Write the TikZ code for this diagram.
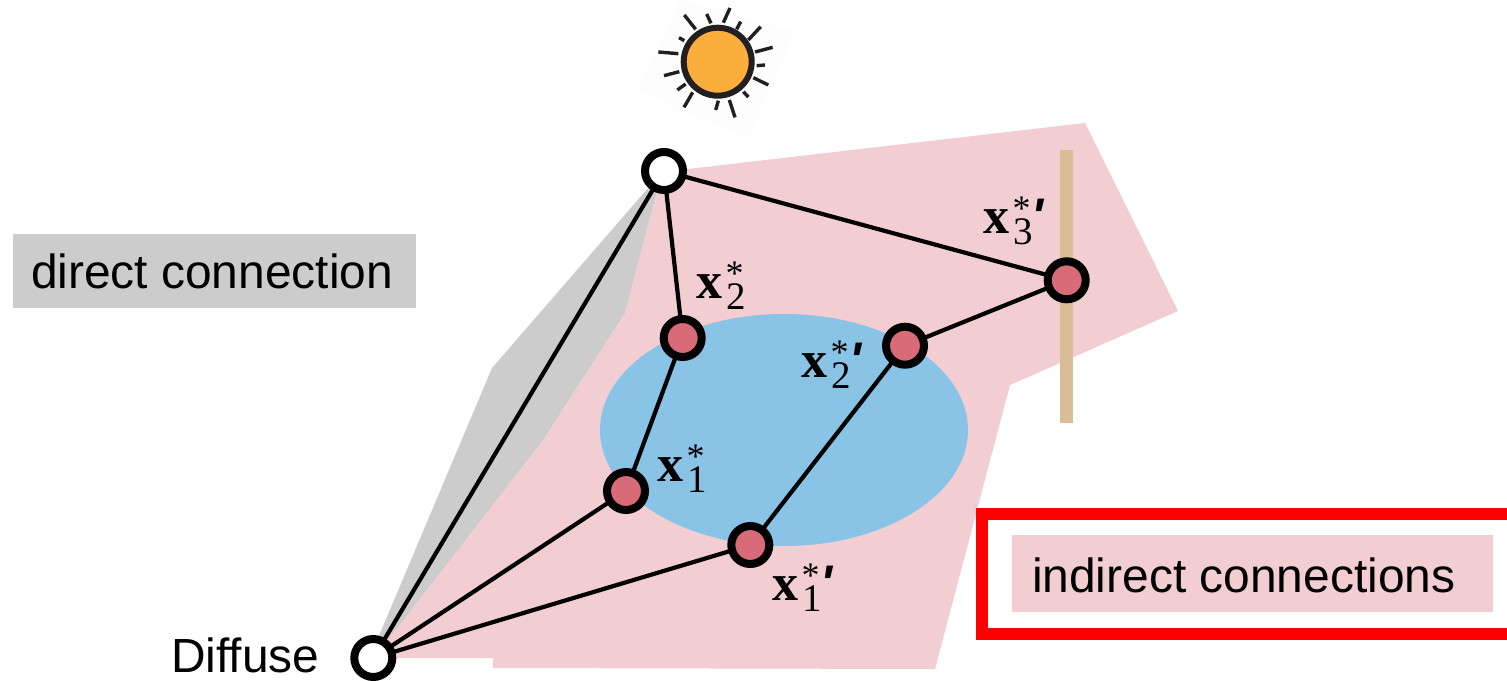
\documentclass[tikz,border=0pt]{standalone}
\usepackage{amsmath}
\usepackage[no-math]{fontspec}
\setmainfont{Liberation Sans}
\newfontfamily\labserif{Liberation Serif}
\definecolor{pinkbg}{HTML}{F2CED3}
\definecolor{bluebg}{HTML}{89C3E6}
\definecolor{graybg}{HTML}{CCCCCC}
\definecolor{tanbar}{HTML}{D9BD97}
\definecolor{vert}{HTML}{D96B78}
\definecolor{sunfill}{HTML}{FBAE3C}
\definecolor{sunline}{HTML}{231F20}
\definecolor{boxred}{HTML}{FF0000}
\newcommand\primemk{\rlap{\hspace{48pt}{\rmfamily\fontsize{50}{50}\selectfont\bfseries\itshape\textquotesingle}}}
\newcommand\xlab[2]{\makebox[62pt][l]{\labserif
  \rlap{\fontsize{52}{52}\selectfont\bfseries x}%
  \rlap{\hspace{30pt}\raisebox{-11pt}{\fontsize{39}{39}\selectfont #1}}%
  \rlap{\hspace{29.5pt}\raisebox{13pt}{\fontsize{36}{36}\selectfont *}}#2}}
\tikzset{
  vertex/.style={circle,draw=black,line width=8pt,minimum size=38pt,inner sep=0pt,outer sep=3pt},
  redv/.style={vertex,fill=vert},
  whitev/.style={vertex,fill=white},
  conn/.style={line width=4.2pt,black},
  ray/.style={line width=3.4pt,sunline},
  lab/.style={inner sep=0pt,outer sep=0pt,font=\fontsize{47.9}{50}\selectfont},
  mlab/.style={inner sep=0pt,outer sep=0pt,anchor=base west}
}
\begin{document}
\begin{tikzpicture}[x=1pt,y=-1pt]
\useasboundingbox (0,0) rectangle (1507,680);
\fill[white] (0,0) rectangle (1507,680);
% faint backing of the sun picture
\fill[black!0.6] (680,0) -- (795,32) -- (748,139) -- (637,90) -- cycle;
% sun
\node[circle,draw=sunline,fill=sunfill,line width=6pt,minimum size=68pt,inner sep=0pt] (sun) at (717.7,61.7) {};
\foreach \a/\b/\c/\d in {163/45/197/88,230/42/243/70,300/24/280/68,332/65/320/88,392/80/355/120,428/142/375/156,405/195/380/197,415/255/370/233,355/291/340/275,315/352/298/300,265/302/257/330,188/277/162/322,167/252/142/270,148/215/102/227,145/161/85/156,163/122/147/113}
  \draw[ray] ({630+\a/3},{\b/3}) -- ({630+\c/3},{\d/3});
% regions
\fill[pinkbg] (373,658) -- (543,440) -- (625,313) -- (662,172) -- (1085,123) -- (1178,311) -- (1010,385) -- (935,669) -- (493,668) -- (493,658) -- cycle;
\fill[graybg] (373,650) -- (492,368) -- (662,172) -- (625,313) -- (543,440) -- (380,650) -- cycle;
\fill[bluebg] (784,430) ellipse [x radius=184, y radius=116];
\fill[tanbar] (1060,150) rectangle (1073,423);
% legend
\fill[graybg] (13,234) rectangle (416,308);
\node[lab,anchor=base west] (direct) at (31,288.5) {direct connection};
\draw[boxred,line width=12pt] (1520,514) -- (982,514) -- (982,634) -- (1520,634);
\fill[pinkbg] (1012,535) rectangle (1493,612);
\node[lab,anchor=base west] (indirect) at (1032,592) {indirect connections};
\node[lab,anchor=base east] (difflab) at (319.5,672) {Diffuse};
% vertices
\node[whitev] (light) at (664,171) {};
\node[redv] (x2) at (682.7,338) {};
\node[redv] (x1) at (626,491) {};
\node[redv] (x1p) at (750.3,545) {};
\node[redv] (x2p) at (905,345.7) {};
\node[redv] (x3p) at (1066.7,280.3) {};
\node[whitev] (diffuse) at (373.3,658) {};
% connectors
\draw[conn] (diffuse) -- (light);
\draw[conn] (light) -- (x2);
\draw[conn] (light) -- (x3p);
\draw[conn] (x2) -- (x1);
\draw[conn] (x1) -- (diffuse);
\draw[conn] (x1p) -- (diffuse);
\draw[conn] (x1p) -- (x2p);
\draw[conn] (x2p) -- (x3p);
% labels
\node[mlab] (lx2) at (696,298) {\xlab{2}{}};
\node[mlab] (lx1) at (657,481) {\xlab{1}{}};
\node[mlab] (lx2p) at (801,377) {\xlab{2}{\primemk}};
\node[mlab] (lx3p) at (983,233) {\xlab{3}{\primemk}};
\node[mlab] (lx1p) at (772,600) {\xlab{1}{\primemk}};
\end{tikzpicture}
\end{document}
